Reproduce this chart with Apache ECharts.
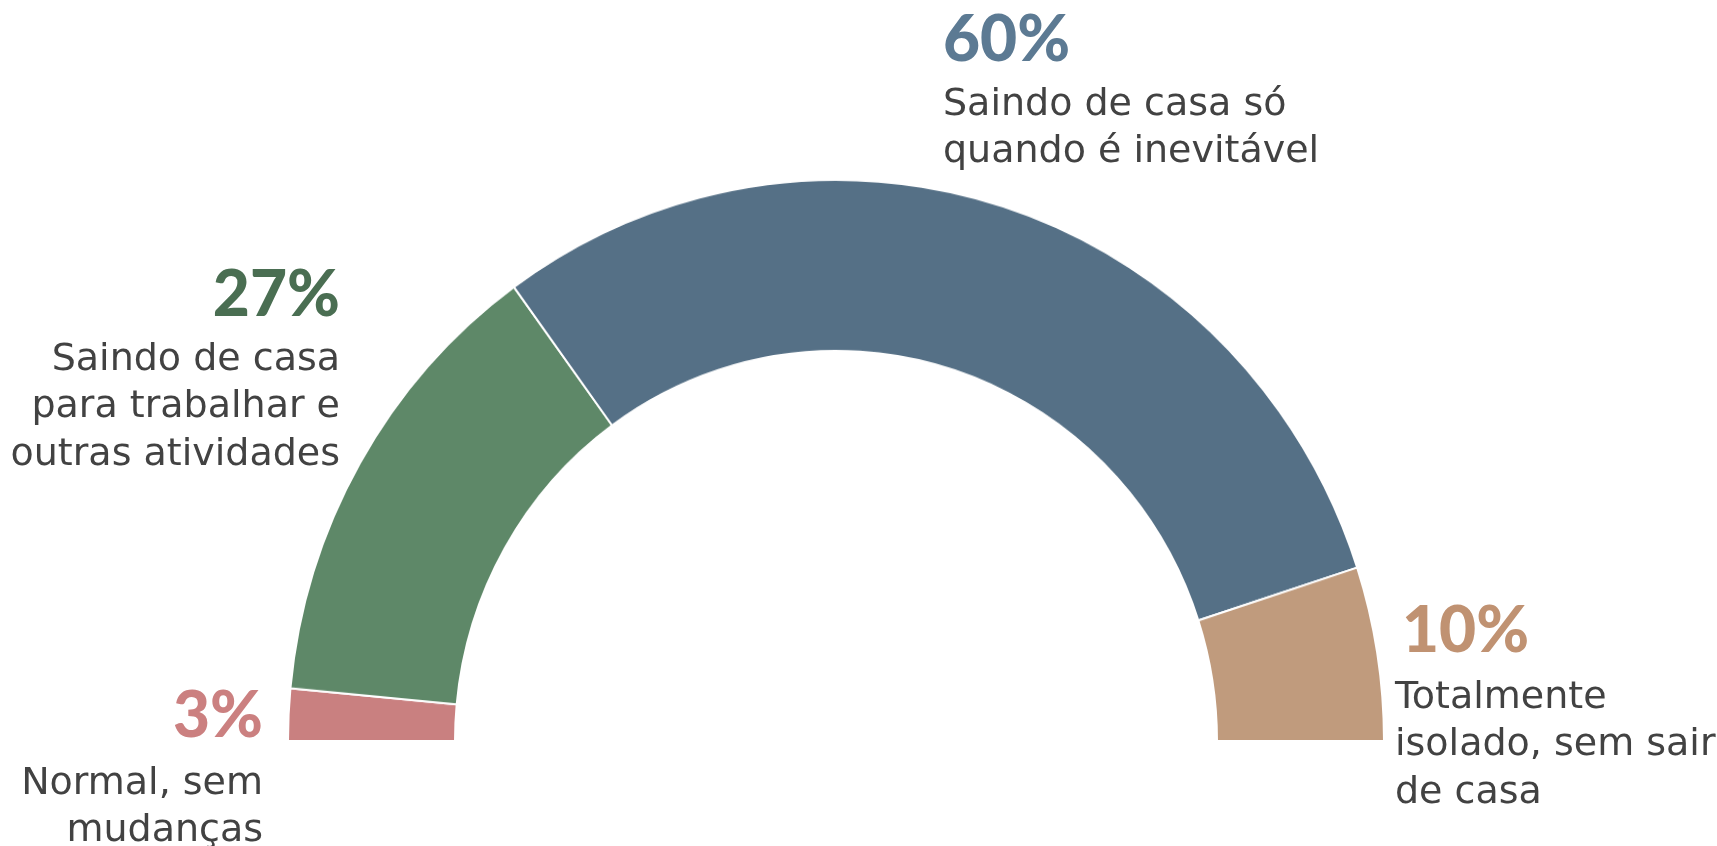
<!DOCTYPE html>
<html>
<head>
<meta charset="utf-8">
<script src="https://cdn.jsdelivr.net/npm/echarts@6/dist/echarts.min.js"></script>
<style>
html,body{margin:0;padding:0;background:#fff;}
#wrap{position:relative;width:1717px;height:846px;}
#pie,#chart{position:absolute;left:0;top:0;width:1717px;height:846px;}
/* o semicírculo do original é levemente esticado na vertical */
#pie{transform:scaleY(1.024);transform-origin:0 741px;}
</style>
</head>
<body>
<div id="wrap">
	<div id="pie"></div>
	<div id="chart"></div>
</div>
<script>
// categorias e valores (%)
var categories = ['Normal, sem\nmudanças', 'Saindo de casa\npara trabalhar e\noutras atividades', 'Saindo de casa só\nquando é inevitável', 'Totalmente\nisolado, sem sair\nde casa'];
var values = [3, 27, 60, 10];
var pctLabels = ['3%', '27%', '60%', '10%'];

var sliceColors = ['#C98080', '#5E8868', '#557086', '#C09B7D'];
var pctColors = ['#CB8080', '#4A6E52', '#5C7A93', '#C09272'];

/***
 * semicírculo
 */
var pieChart = echarts.init(document.getElementById('pie'));
pieChart.setOption({
	animation: false,
	series: [
		{
			type: 'pie',
			center: [836, 741],
			radius: [381, 548],
			startAngle: 180,
			endAngle: 0,
			clockwise: true,
			silent: true,
			label: { show: false },
			labelLine: { show: false },
			itemStyle: { borderColor: '#fff', borderWidth: 2 },
			data: values.map(function (v, i) {
				return { name: categories[i], value: v, itemStyle: { color: sliceColors[i] } };
			})
		}
	]
});

/***
 * rótulos
 */
// [x %, y centro %, align, x texto, y topo texto]
var labelPos = [
	[263, 716, 'right', 263, 760],
	[340, 295, 'right', 340, 336],
	[943, 40, 'left', 943, 81],
	[1402, 631, 'left', 1395, 674]
];

var graphics = [];
for (var i = 0; i < values.length; i++) {
	var p = labelPos[i];
	graphics.push({
		type: 'text',
		style: {
			text: pctLabels[i], x: p[0], y: p[1],
			font: '900 64px Lato', fill: pctColors[i],
			textAlign: p[2], textVerticalAlign: 'middle'
		}
	});
	graphics.push({
		type: 'text',
		style: {
			text: categories[i], x: p[3], y: p[4],
			font: '38px "DejaVu Sans"', fill: '#424242', lineHeight: 47.5,
			textAlign: p[2], textVerticalAlign: 'top'
		}
	});
}

var chart = echarts.init(document.getElementById('chart'));
chart.setOption({
	animation: false,
	graphic: graphics
});
</script>
</body>
</html>
